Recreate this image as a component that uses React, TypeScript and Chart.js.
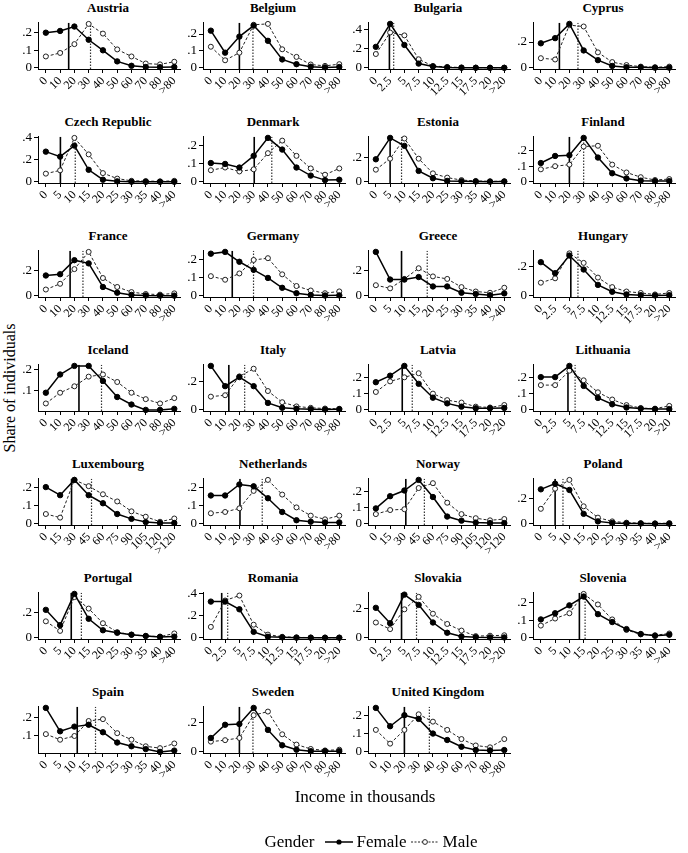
import React, { useEffect, useRef } from "react";
import { Chart, registerables } from "chart.js";
Chart.register(...registerables);

const countries = ["Austria", "Belgium", "Bulgaria", "Cyprus", "Czech Republic", "Denmark", "Estonia", "Finland", "France", "Germany", "Greece", "Hungary", "Iceland", "Italy", "Latvia", "Lithuania", "Luxembourg", "Netherlands", "Norway", "Poland", "Portugal", "Romania", "Slovakia", "Slovenia", "Spain", "Sweden", "United Kingdom"];

const labels10 = ["0", "10", "20", "30", "40", "50", "60", "70", "80", ">80"];
const labels2_5 = ["0", "2.5", "5", "7.5", "10", "12.5", "15", "17.5", "20", ">20"];
const labels5 = ["0", "5", "10", "15", "20", "25", "30", "35", "40", ">40"];
const labels15 = ["0", "15", "30", "45", "60", "75", "90", "105", "120", ">120"];

const xLabelSets = [labels10, labels10, labels2_5, labels10, labels5, labels10, labels5, labels10, labels10, labels10, labels5, labels2_5, labels10, labels10, labels2_5, labels2_5, labels15, labels10, labels15, labels5, labels5, labels2_5, labels2_5, labels5, labels5, labels10, labels10];

const femaleShare = [
  [.20, .21, .235, .16, .10, .037, .012, .005, .004, .005],
  [.22, .09, .185, .25, .16, .05, .022, .007, .003, .005],
  [.22, .46, .24, .045, .015, .005, .002, .001, .001, .001],
  [.19, .23, .34, .135, .06, .015, .005, .005, .002, .002],
  [.275, .23, .33, .11, .02, .005, .002, .001, .001, .001],
  [.105, .10, .08, .145, .245, .18, .08, .035, .01, .012],
  [.185, .36, .295, .09, .03, .008, .005, .003, .002, .003],
  [.12, .165, .17, .28, .155, .055, .022, .008, .005, .005],
  [.16, .17, .28, .255, .07, .025, .008, .003, .002, .002],
  [.235, .245, .19, .145, .10, .045, .015, .005, .002, .003],
  [.35, .13, .13, .15, .075, .075, .025, .015, .005, .02],
  [.23, .155, .275, .18, .075, .028, .01, .005, .003, .005],
  [.09, .175, .215, .215, .145, .07, .035, .01, .01, .015],
  [.315, .17, .235, .17, .05, .015, .008, .005, .003, .005],
  [.17, .21, .27, .16, .075, .04, .02, .01, .01, .012],
  [.205, .205, .275, .15, .075, .035, .015, .008, .005, .005],
  [.205, .16, .245, .16, .115, .055, .028, .01, .005, .005],
  [.155, .155, .215, .205, .14, .065, .02, .012, .008, .008],
  [.095, .17, .205, .27, .165, .045, .02, .008, .005, .005],
  [.275, .32, .27, .08, .02, .008, .004, .003, .002, .002],
  [.22, .10, .345, .15, .06, .04, .025, .015, .008, .01],
  [.33, .33, .26, .055, .01, .005, .002, .002, .002, .002],
  [.205, .10, .295, .225, .105, .035, .01, .005, .003, .003],
  [.105, .14, .185, .235, .135, .09, .05, .022, .012, .018],
  [.25, .125, .15, .16, .12, .065, .045, .03, .015, .022],
  [.095, .185, .19, .30, .15, .045, .015, .005, .005, .005],
  [.24, .14, .20, .18, .10, .065, .028, .01, .008, .01],
];

const maleShare = [
  [.065, .085, .135, .25, .195, .105, .065, .025, .02, .035],
  [.125, .045, .09, .255, .26, .11, .065, .02, .012, .022],
  [.145, .37, .34, .09, .02, .01, .004, .003, .002, .002],
  [.075, .065, .33, .32, .12, .045, .022, .01, .005, .01],
  [.075, .105, .40, .25, .08, .03, .01, .008, .005, .01],
  [.065, .08, .058, .07, .16, .23, .145, .075, .04, .075],
  [.10, .19, .355, .19, .07, .035, .015, .008, .005, .005],
  [.08, .10, .11, .225, .23, .11, .06, .03, .012, .018],
  [.05, .095, .21, .345, .14, .07, .03, .015, .01, .02],
  [.11, .09, .125, .20, .21, .12, .055, .03, .015, .025],
  [.085, .06, .135, .22, .155, .135, .07, .035, .025, .065],
  [.09, .12, .29, .225, .125, .06, .03, .02, .01, .02],
  [.04, .09, .12, .165, .175, .14, .09, .06, .04, .065],
  [.095, .105, .24, .295, .135, .055, .025, .015, .01, .008],
  [.11, .175, .20, .225, .10, .06, .045, .02, .015, .03],
  [.155, .155, .245, .185, .11, .065, .03, .012, .008, .025],
  [.055, .035, .245, .21, .165, .125, .07, .04, .012, .03],
  [.058, .065, .085, .18, .24, .16, .09, .045, .025, .045],
  [.06, .085, .09, .22, .25, .13, .06, .035, .022, .03],
  [.12, .28, .35, .14, .05, .02, .01, .006, .004, .006],
  [.13, .055, .32, .23, .115, .045, .025, .015, .01, .035],
  [.10, .34, .385, .12, .03, .01, .005, .003, .002, .002],
  [.105, .06, .195, .28, .165, .095, .05, .012, .015, .018],
  [.07, .11, .14, .25, .19, .105, .045, .02, .015, .025],
  [.11, .08, .10, .18, .19, .115, .08, .045, .035, .06],
  [.07, .08, .095, .25, .275, .12, .05, .02, .01, .015],
  [.12, .045, .12, .205, .165, .12, .07, .035, .025, .07],
];

// medians, in category-index units
const femaleMedian = [1.6, 2.0, 0.95, 1.3, 1.02, 3.04, 1.0, 2.0, 1.7, 1.5, 1.8, 2.1, 2.32, 1.26, 1.85, 1.9, 1.8, 2.04, 2.1, 1.0, 1.78, 0.76, 1.8, 2.7, 2.2, 2.0, 2.0];
const maleMedian = [3.13, 2.95, 1.25, 2.6, 2.06, 4.27, 1.8, 3.0, 2.6, 2.99, 3.6, 2.6, 3.9, 2.37, 2.55, 2.4, 3.2, 3.6, 3.4, 1.55, 2.49, 1.18, 2.85, 3.1, 3.48, 2.95, 3.75];

const yTickSets = [
  [0, .1, .2], [0, .1, .2], [0, .1, .2, .3, .4], [0, .1, .2, .3],
  [0, .1, .2, .3, .4], [0, .1, .2], [0, .1, .2, .3], [0, .1, .2],
  [0, .1, .2, .3], [0, .1, .2], [0, .1, .2, .3], [0, .1, .2, .3],
  [.1, .2], [0, .1, .2, .3], [0, .1, .2], [0, .1, .2],
  [0, .1, .2], [0, .1, .2], [0, .1, .2], [0, .1, .2, .3],
  [0, .1, .2, .3], [0, .1, .2, .3, .4], [0, .1, .2, .3], [0, .1, .2],
  [.1, .2], [0, .1, .2, .3], [0, .1, .2],
];

const FONT = '"Liberation Serif", "Times New Roman", serif';
const PANEL_W = 165;
const ROW_H = 114;
const CANVAS_H = 92;
const AXIS_W = 17;

function fmtY(v: number) {
  if (Math.abs(v) < 1e-9) return "0";
  return "." + Math.round(v * 10);
}

function makeConfig(i: number): any {
  const fem = femaleShare[i];
  const mal = maleShare[i];
  const labels = xLabelSets[i];
  const yt = yTickSets[i];
  const hi = Math.max(...fem, ...mal, yt[yt.length - 1]);
  const lo = Math.min(...fem, ...mal, yt[0]);
  const range = hi - lo;
  const ymax = hi + 0.025 * range;
  const ymin = lo - 0.025 * range;
  const axisGrid = { display: true, drawOnChartArea: false, drawTicks: true, tickLength: 4, color: "#000", lineWidth: 1 };
  return {
    type: "line",
    data: {
      datasets: [
        {
          label: "Female",
          data: fem.map((y, k) => ({ x: k, y })),
          borderColor: "#000",
          borderWidth: 1.5,
          pointRadius: 2.7,
          pointBackgroundColor: "#000",
          pointBorderColor: "#000",
          pointBorderWidth: 1,
          clip: false,
          order: 0,
        },
        {
          label: "Male",
          data: mal.map((y, k) => ({ x: k, y })),
          borderColor: "#222",
          borderWidth: 1,
          borderDash: [3, 2],
          pointRadius: 2.5,
          pointBackgroundColor: "#fff",
          pointBorderColor: "#222",
          pointBorderWidth: 1,
          clip: false,
          order: 1,
        },
        {
          label: "Female median",
          data: [{ x: femaleMedian[i], y: ymin }, { x: femaleMedian[i], y: ymax }],
          borderColor: "#000",
          borderWidth: 1.6,
          pointRadius: 0,
          order: 2,
        },
        {
          label: "Male median",
          data: [{ x: maleMedian[i], y: ymin }, { x: maleMedian[i], y: ymax }],
          borderColor: "#333",
          borderWidth: 1.2,
          borderDash: [1.5, 1.5],
          pointRadius: 0,
          order: 2,
        },
      ],
    },
    options: {
      animation: false,
      responsive: false,
      events: [],
      devicePixelRatio: 1,
      layout: { padding: { top: 4, right: 6, bottom: 4, left: 0 } },
      plugins: { legend: { display: false }, tooltip: { enabled: false }, title: { display: false } },
      scales: {
        x: {
          type: "linear",
          min: -0.55,
          max: 9.4,
          grid: axisGrid,
          border: { display: true, color: "#000", width: 1 },
          ticks: {
            autoSkip: false,
            minRotation: 45,
            maxRotation: 45,
            padding: 1,
            color: "#000",
            font: { family: FONT, size: 12 },
            callback: (v: number) => labels[v] ?? "",
          },
          afterBuildTicks: (s: any) => {
            s.ticks = labels.map((_, k) => ({ value: k }));
          },
          afterFit: (s: any) => {
            s.height = 32;
          },
        },
        y: {
          type: "linear",
          min: ymin,
          max: ymax,
          grid: axisGrid,
          border: { display: true, color: "#000", width: 1 },
          ticks: {
            padding: 2,
            color: "#000",
            font: { family: FONT, size: 13 },
            callback: (v: number) => fmtY(v),
          },
          afterBuildTicks: (s: any) => {
            s.ticks = yt.map((v) => ({ value: v }));
          },
          afterFit: (s: any) => {
            s.width = AXIS_W;
          },
        },
      },
    },
  };
}

function Panel({ idx, left, top }: { idx: number; left: number; top: number }) {
  const ref = useRef<HTMLCanvasElement>(null);
  useEffect(() => {
    const chart = new Chart(ref.current as HTMLCanvasElement, makeConfig(idx));
    return () => chart.destroy();
  }, [idx]);
  return (
    <canvas
      ref={ref}
      width={PANEL_W}
      height={CANVAS_H}
      style={{ position: "absolute", left, top, width: PANEL_W, height: CANVAS_H }}
    />
  );
}

export default function App() {
  return (
    <div
      style={{
        position: "absolute",
        left: 0,
        top: 0,
        width: 688,
        height: 853,
        background: "#fff",
        fontFamily: FONT,
        color: "#000",
        overflow: "hidden",
      }}
    >
      {countries.map((c, i) => {
        const r = Math.floor(i / 4);
        const col = i % 4;
        const left = 21 + col * PANEL_W;
        const top = r * ROW_H;
        return (
          <React.Fragment key={c}>
            <div
              style={{
                position: "absolute",
                left: left + AXIS_W + 70 - 70,
                top: top,
                width: 140,
                textAlign: "center",
                fontWeight: "bold",
                fontSize: 13,
                lineHeight: "15px",
                whiteSpace: "nowrap",
              }}
            >
              {c}
            </div>
            <Panel idx={i} left={left} top={top + 13} />
          </React.Fragment>
        );
      })}
      <div
        style={{
          position: "absolute",
          left: 10 - 100,
          top: 388 - 10,
          width: 200,
          height: 20,
          lineHeight: "20px",
          textAlign: "center",
          fontSize: 16,
          transform: "rotate(-90deg)",
        }}
      >
        Share of individuals
      </div>
      <div
        style={{
          position: "absolute",
          left: 365 - 150,
          top: 787,
          width: 300,
          textAlign: "center",
          fontSize: 17,
          lineHeight: "20px",
        }}
      >
        Income in thousands
      </div>
      <div
        style={{
          position: "absolute",
          left: 371 - 150,
          top: 832,
          width: 300,
          display: "flex",
          justifyContent: "center",
          alignItems: "center",
          fontSize: 17,
          lineHeight: "20px",
          whiteSpace: "nowrap",
        }}
      >
        <span style={{ marginRight: 9 }}>Gender</span>
        <svg width={30} height={10} style={{ marginRight: 3 }}>
          <line x1={1} y1={5} x2={29} y2={5} stroke="#000" strokeWidth={1.5} />
          <circle cx={15} cy={5} r={2.6} fill="#000" />
        </svg>
        <span style={{ marginRight: 3 }}>Female</span>
        <svg width={30} height={10} style={{ marginRight: 3 }}>
          <line x1={1} y1={5} x2={29} y2={5} stroke="#222" strokeWidth={1} strokeDasharray="2,1.5" />
          <circle cx={15} cy={5} r={2.4} fill="#fff" stroke="#222" strokeWidth={1} />
        </svg>
        <span>Male</span>
      </div>
    </div>
  );
}
